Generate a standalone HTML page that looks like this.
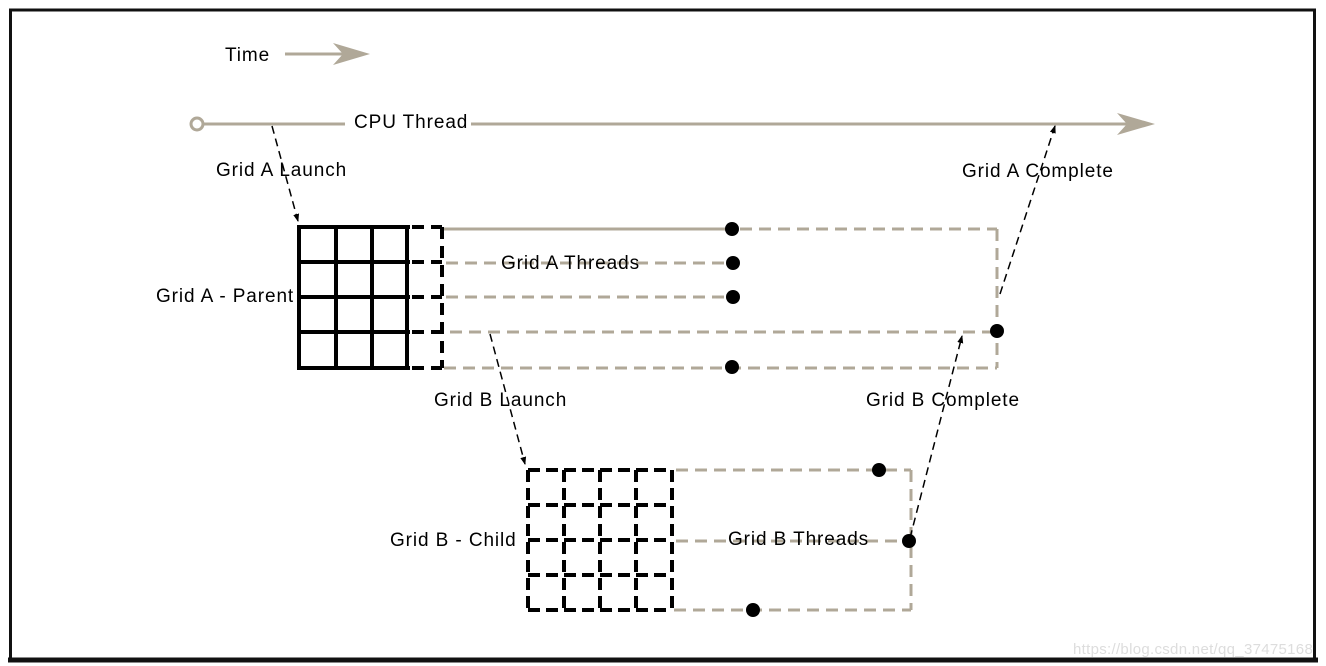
<!DOCTYPE html>
<html><head><style>
html,body{margin:0;padding:0;background:#fff;}
svg{display:block;}
text{font-family:"Liberation Sans",Arial,sans-serif;font-size:19px;fill:#000;letter-spacing:0.9px;}
</style></head><body>
<svg width="1326" height="666" viewBox="0 0 1326 666">
<rect x="0" y="0" width="1326" height="666" fill="#fff"/>
<rect x="10.5" y="10" width="1304" height="649" fill="none" stroke="#111" stroke-width="3"/>
<line x1="8" y1="660" x2="1318" y2="660" stroke="#111" stroke-width="5"/>
<defs>
<marker id="ah" markerWidth="8" markerHeight="8" refX="7" refY="4" orient="auto" markerUnits="userSpaceOnUse">
<path d="M0,1 L8,4 L0,7 Z" fill="#000"/></marker>
</defs>
<g stroke="#b0a898" fill="none">
<line x1="285" y1="54" x2="345" y2="54" stroke-width="3"/>
<path d="M333,43 L370,54 L333,65 L343,54 Z" fill="#b0a898" stroke="none"/>
<circle cx="197" cy="124" r="6" stroke-width="3" fill="#fff"/>
<line x1="203" y1="124" x2="345" y2="124" stroke-width="3"/>
<line x1="471" y1="124" x2="1130" y2="124" stroke-width="3"/>
<path d="M1117,113 L1155,124 L1117,135 L1127,124 Z" fill="#b0a898" stroke="none"/>
<line x1="444" y1="229" x2="732" y2="229" stroke-width="3"/>
<g stroke-width="3" stroke-dasharray="12,7">
<line x1="740" y1="229" x2="997" y2="229"/>
<line x1="997" y1="229" x2="997" y2="368"/>
<line x1="446" y1="263" x2="733" y2="263"/>
<line x1="446" y1="297" x2="733" y2="297"/>
<line x1="450" y1="332" x2="997" y2="332"/>
<line x1="444" y1="368" x2="997" y2="368"/>
<line x1="676" y1="470" x2="911" y2="470"/>
<line x1="911" y1="470" x2="911" y2="610"/>
<line x1="676" y1="541" x2="911" y2="541"/>
<line x1="674" y1="610" x2="911" y2="610"/>
</g>
</g>
<g fill="#000">
<circle cx="732" cy="229" r="7"/>
<circle cx="733" cy="263" r="7"/>
<circle cx="733" cy="297" r="7"/>
<circle cx="997" cy="331" r="7"/>
<circle cx="732" cy="367" r="7"/>
<circle cx="879" cy="470" r="7"/>
<circle cx="909" cy="541" r="7"/>
<circle cx="753" cy="610" r="7"/>
</g>
<g stroke="#000" stroke-width="4" fill="none">
<path d="M299,227 V368 M336,227 V368 M372,227 V368 M407,227 V368"/>
<path d="M297,227 H410 M297,262 H410 M297,297 H410 M297,332 H410 M297,368 H410"/>
<g stroke-dasharray="12,7">
<path d="M412,227 H442 M412,262 H442 M412,297 H442 M412,332 H442 M412,368 H442"/>
<line x1="442" y1="227" x2="442" y2="368"/>
</g>
</g>
<g stroke="#000" stroke-width="4" fill="none" stroke-dasharray="12,6">
<path d="M528,470 V612 M564,470 V612 M600,470 V612 M636,470 V612 M672,470 V612"/>
<path d="M528,470 H672 M528,505 H672 M528,540 H672 M528,575 H672 M528,610 H672"/>
</g>
<g stroke="#000" stroke-width="1.5" stroke-dasharray="8,5" fill="none">
<line x1="272" y1="126" x2="298" y2="221" marker-end="url(#ah)"/>
<line x1="490" y1="334" x2="525" y2="464" marker-end="url(#ah)"/>
<line x1="910" y1="538" x2="962" y2="336" marker-end="url(#ah)"/>
<line x1="1000" y1="294" x2="1055" y2="126" marker-end="url(#ah)"/>
</g>
<text x="225" y="61">Time</text>
<rect x="348" y="110" width="122" height="26" fill="#fff"/>
<text x="354" y="128">CPU Thread</text>
<text x="216" y="176">Grid A Launch</text>
<text x="962" y="177">Grid A Complete</text>
<text x="156" y="302">Grid A -  Parent</text>
<text x="501" y="269">Grid A Threads</text>
<text x="434" y="406">Grid B Launch</text>
<text x="866" y="406">Grid B Complete</text>
<text x="390" y="546">Grid B -  Child</text>
<text x="728" y="545">Grid B Threads</text>
<text x="1073" y="654" style="font-size:15px;fill:#ddd;letter-spacing:0.3px">https://blog.csdn.net/qq_37475168</text>
</svg>
</body></html>
